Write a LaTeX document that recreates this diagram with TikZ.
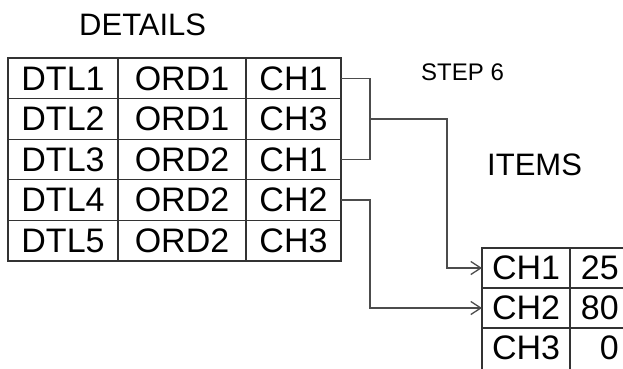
\documentclass[tikz,border=0pt]{standalone}
\usepackage{fontspec}
\setmainfont{Liberation Sans}
\usetikzlibrary{arrows.meta}
\begin{document}
\begin{tikzpicture}[x=1pt,y=-1pt,
  cell/.style={draw=black!80,line width=1.3pt,inner sep=0pt,outer sep=0pt,anchor=north west,font=\fontsize{34}{34}\selectfont},
  grid/.style={draw=black!80,line width=1.3pt},
  conn/.style={draw=black!70,line width=1.3pt},
  arr/.style={conn,-{Straight Barb[length=10pt,width=13pt,line width=1.3pt]}},
  lbl/.style={inner sep=0pt,anchor=base west}]
\path[use as bounding box,clip] (0,0) rectangle (623,368);
% DETAILS table
\foreach \r/\y/\a/\b/\c in {1/58/DTL1/ORD1/CH1,2/98.6/DTL2/ORD1/CH3,3/139.2/DTL3/ORD2/CH1,4/179.8/DTL4/ORD2/CH2,5/220.4/DTL5/ORD2/CH3}{
  \node[cell,minimum width=110pt,minimum height=40.6pt] (d\r1) at (8,\y) {\a};
  \node[cell,minimum width=128pt,minimum height=40.6pt] (d\r2) at (118,\y) {\b};
  \node[cell,minimum width=95pt,minimum height=40.6pt] (d\r3) at (246,\y) {\c};
}
\draw[draw=black!80,line width=2pt] (d11.north west) rectangle (d53.south east);
% ITEMS table
\foreach \r/\y/\a/\b in {1/248/CH1/25,2/288/CH2/80,3/328/CH3/0}{
  \node[cell,draw=none,minimum width=88pt,minimum height=40pt] (i\r1) at (482,\y) {\a};
  \node[cell,draw=none,minimum width=80pt,minimum height=40pt] (i\r2) at (570,\y) {};
  \node[inner sep=0pt,anchor=east,font=\fontsize{34}{34}\selectfont] (n\r) at (619,\y+20) {\b};
}
\draw[grid] (i11.south west) -- (i12.south east);
\draw[grid] (i21.south west) -- (i22.south east);
\draw[grid] (i11.north east) -- ([yshift=-10pt]i31.south east);
\draw[draw=black!80,line width=2pt] ([yshift=-10pt]i31.south west) -- (i11.north west) -- (i12.north east) -- ([yshift=-10pt]i32.south east);
% labels
\node[lbl,font=\fontsize{31}{31}\selectfont] (tdet) at (79,35) {DETAILS};
\node[lbl,font=\fontsize{24}{24}\selectfont] (tstep) at (421,80.5) {STEP 6};
\node[lbl,font=\fontsize{31}{31}\selectfont] (titems) at (487,175) {ITEMS};
% connectors
\coordinate (bx) at (370,0);
\coordinate (cx) at (447,0);
\draw[conn] (d13.east) -| (bx |- d23.east) |- (d33.east);
\draw[arr] (bx |- d23.east) -| (cx |- i11.west) -- (i11.west);
\draw[arr] (d43.east) -| (bx |- i21.west) -- (i21.west);
\end{tikzpicture}
\end{document}
